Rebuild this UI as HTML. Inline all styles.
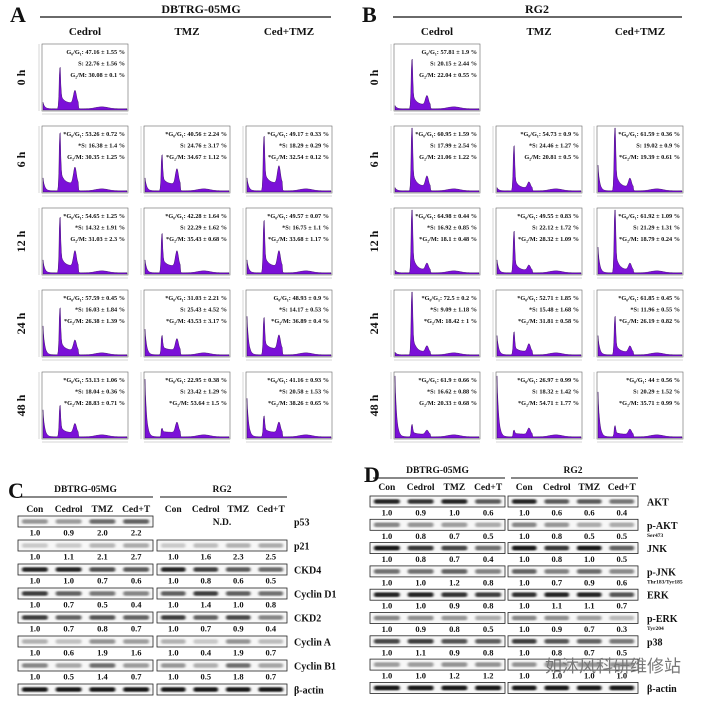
<!DOCTYPE html>
<html><head><meta charset="utf-8"><style>
html,body{margin:0;padding:0;background:#fff}
svg{display:block}
text{font-family:"Liberation Serif","Noto Serif CJK SC",serif;font-weight:bold;fill:#111}
</style></head><body>
<svg id="fig" width="701" height="701" viewBox="0 0 701 701">
<defs>
<filter id="blur" x="-20%" y="-150%" width="140%" height="400%"><feGaussianBlur stdDeviation="1.2 0.9"/></filter>
</defs>
<g id="panelA"></g>
<g id="panelB"></g>
<g id="panelC"></g>
<g id="panelD"></g>
<text x="545" y="672" font-size="17" style="font-weight:normal;fill:#777;font-family:'Liberation Sans','Noto Sans CJK SC',sans-serif">如沐风科研维修站</text>
</svg>
<script>
var NS="http://www.w3.org/2000/svg";
function mk(tag,attrs,parent,txt){var e=document.createElementNS(NS,tag);for(var k in attrs)e.setAttribute(k,String(attrs[k]));if(txt!==undefined)e.textContent=txt;parent.appendChild(e);return e;}

// ---- Flow cytometry data ----
var timepoints=["0 h","6 h","12 h","24 h","48 h"];
var treatments=["Cedrol","TMZ","Ced+TMZ"];
// [G1 peak height, G2 peak height, debris height] fractions of plot height
var histA=[
 [[.55,.25,.1],null,null],
 [[.78,.32,.2],[.45,.3,.2],[.72,.34,.2]],
 [[.75,.3,.2],[.5,.3,.2],[.7,.3,.2]],
 [[.65,.2,.45],[.22,.22,.4],[.48,.27,.6]],
 [[.42,.18,.42],[.06,.2,.9],[.25,.2,.6]]];
var histB=[
 [[.7,.18,.05],null,null],
 [[.95,.2,.05],[.65,.12,.05],[.98,.17,.4]],
 [[1.0,.13,.04],[.6,.1,.2],[1.0,.13,.4]],
 [[1.0,.12,.04],[.3,.15,.3],[.55,.12,.3]],
 [[.15,.08,.95],[.06,.12,.95],[.13,.1,.7]]];
var G="G₀/G₁", M="G₂/M";
var textA=[
 [[G+": 47.16 ± 1.55 %","S: 22.76 ± 1.56 %",M+": 30.08 ± 0.1 %"],null,null],
 [["*"+G+": 53.26 ± 0.72 %","*S: 16.38 ± 1.4 %",M+": 30.35 ± 1.25 %"],["*"+G+": 40.56 ± 2.24 %","S: 24.76 ± 3.17 %","*"+M+": 34.67 ± 1.12 %"],["*"+G+": 49.17 ± 0.33 %","*S: 18.29 ± 0.29 %","*"+M+": 32.54 ± 0.12 %"]],
 [["*"+G+": 54.65 ± 1.25 %","*S: 14.32 ± 1.91 %",M+": 31.03 ± 2.3 %"],["*"+G+": 42.28 ± 1.64 %","S: 22.29 ± 1.62 %","*"+M+": 35.43 ± 0.68 %"],["*"+G+": 49.57 ± 0.07 %","*S: 16.75 ± 1.1 %","*"+M+": 33.68 ± 1.17 %"]],
 [["*"+G+": 57.59 ± 0.45 %","*S: 16.03 ± 1.84 %","*"+M+": 26.38 ± 1.39 %"],["*"+G+": 31.03 ± 2.21 %","S: 25.43 ± 4.52 %","*"+M+": 43.53 ± 3.17 %"],[G+": 48.93 ± 0.9 %","*S: 14.17 ± 0.53 %","*"+M+": 36.89 ± 0.4 %"]],
 [["*"+G+": 53.13 ± 1.06 %","*S: 18.04 ± 0.36 %","*"+M+": 28.83 ± 0.71 %"],["*"+G+": 22.95 ± 0.38 %","S: 23.42 ± 1.29 %","*"+M+": 53.64 ± 1.5 %"],["*"+G+": 41.16 ± 0.93 %","*S: 20.58 ± 1.53 %","*"+M+": 38.26 ± 0.65 %"]]];
var textB=[
 [[G+": 57.81 ± 1.9 %","S: 20.15 ± 2.44 %",M+": 22.04 ± 0.55 %"],null,null],
 [["*"+G+": 60.95 ± 1.59 %","S: 17.99 ± 2.54 %",M+": 21.06 ± 1.22 %"],["*"+G+": 54.73 ± 0.9 %","*S: 24.46 ± 1.27 %",M+": 20.81 ± 0.5 %"],["*"+G+": 61.59 ± 0.36 %","S: 19.02 ± 0.9 %","*"+M+": 19.39 ± 0.61 %"]],
 [["*"+G+": 64.98 ± 0.44 %","*S: 16.92 ± 0.85 %","*"+M+": 18.1 ± 0.48 %"],["*"+G+": 49.55 ± 0.83 %","S: 22.12 ± 1.72 %","*"+M+": 28.32 ± 1.09 %"],["*"+G+": 61.92 ± 1.09 %","S: 21.29 ± 1.31 %","*"+M+": 18.79 ± 0.24 %"]],
 [["*"+G+": 72.5 ± 0.2 %","*S: 9.09 ± 1.18 %","*"+M+": 18.42 ± 1 %"],["*"+G+": 52.71 ± 1.85 %","*S: 15.48 ± 1.68 %","*"+M+": 31.81 ± 0.58 %"],["*"+G+": 61.85 ± 0.45 %","*S: 11.96 ± 0.55 %","*"+M+": 26.19 ± 0.82 %"]],
 [["*"+G+": 61.9 ± 0.66 %","*S: 16.62 ± 0.88 %",M+": 20.33 ± 0.68 %"],["*"+G+": 26.97 ± 0.99 %","S: 18.32 ± 1.42 %","*"+M+": 54.71 ± 1.77 %"],["*"+G+": 44 ± 0.56 %","S: 20.29 ± 1.52 %","*"+M+": 35.71 ± 0.99 %"]]];

function histPath(x0,y0,w,h,p){
  var g1=p[0],g2=p[1],deb=p[2]; var d="M"+x0+","+(y0+h); var N=160;
  for(var i=0;i<=N;i++){var u=i/N;
    var v=deb*Math.exp(-u/0.02)+0.02;
    v+=g1*Math.exp(-Math.pow((u-0.2)/0.012,2)); if(u>0.2) v+=g1*0.3*Math.exp(-(u-0.2)/0.04);
    if(u>0.19&&u<0.42) v+=Math.max(0.04,g2*0.35);
    v+=g2*0.8*Math.exp(-Math.pow((u-0.38)/0.025,2));
    v+=0.03*Math.exp(-Math.pow((u-0.7)/0.1,2));
    v=Math.min(v,1); d+=" L"+(x0+u*w).toFixed(1)+","+(y0+h-v*h).toFixed(1);}
  return d+" L"+(x0+w)+","+(y0+h)+" Z";
}
function flowPanel(gid,letter,title,lx,hist,texts,colX,lineX1,lineX2,titleX,rowLblX){
  var g=document.getElementById(gid);
  var L=mk("text",{x:lx,y:22,"font-size":22},g,letter);
  
  
  var t=mk("text",{x:titleX,y:13,"font-size":12,"text-anchor":"middle"},g,title);
  
  
  mk("line",{x1:lineX1,x2:lineX2,y1:17,y2:17,stroke:"#111","stroke-width":1.2},g);
  var rowY=[44,126,208,290,372], w=86,h=67;
  for(var c=0;c<3;c++){var e=mk("text",{x:colX[c]+w/2,y:35,"font-size":11,"text-anchor":"middle"},g,treatments[c]);
    
    }
  for(var r=0;r<5;r++){
    var cy=rowY[r]+h/2;
    var e2=mk("text",{x:rowLblX,y:cy,"font-size":12,"text-anchor":"middle",transform:"rotate(-90 "+rowLblX+" "+cy+")"},g,timepoints[r]);
    
    
    for(var c2=0;c2<3;c2++){
      if(!hist[r][c2]) continue;
      var x=colX[c2],y=rowY[r];
      var cg=mk("g",{},g);
      
      
      mk("rect",{x:x,y:y,width:w,height:h,fill:"none",stroke:"#666","stroke-width":0.6},cg);
      mk("path",{d:histPath(x+1,y+2,w-2,h-3,hist[r][c2]),fill:"#7b10d8",stroke:"#2a0050","stroke-width":0.4},cg);
      mk("line",{x1:x-3,x2:x-3,y1:y,y2:y+h,stroke:"#999","stroke-width":0.4},cg);
      mk("line",{x1:x,x2:x+w,y1:y+h+3,y2:y+h+3,stroke:"#999","stroke-width":0.4},cg);
      for(var i=0;i<3;i++){var te=mk("text",{x:x+w-3,y:y+10+i*11.5,"font-size":6.3,"text-anchor":"end"},cg,texts[r][c2][i]);
        
        }
    }
  }
}
flowPanel("panelA","A","DBTRG-05MG",10,histA,textA,[42,144,246],40,331,201,25);
flowPanel("panelB","B","RG2",362,histB,textB,[394,496,597],393,682,537,378);

// ---- Western blot data ----
var lanes=["Con","Cedrol","TMZ","Ced+T"];
var proteinsC=["p53","p21","CKD4","Cyclin D1","CKD2","Cyclin A","Cyclin B1","β-actin"];
var quantC_DB=[[1.0,0.9,2.0,2.2],[1.0,1.1,2.1,2.7],[1.0,1.0,0.7,0.6],[1.0,0.7,0.5,0.4],[1.0,0.7,0.8,0.7],[1.0,0.6,1.9,1.6],[1.0,0.5,1.4,0.7],null];
var quantC_RG=[null,[1.0,1.6,2.3,2.5],[1.0,0.8,0.6,0.5],[1.0,1.4,1.0,0.8],[1.0,0.7,0.9,0.4],[1.0,0.4,1.9,0.7],[1.0,0.5,1.8,0.7],null];
var baseC=[0.6,0.3,0.85,0.75,0.75,0.4,0.55,0.9];
var proteinsD=["AKT","p-AKT","JNK","p-JNK","ERK","p-ERK","p38","","β-actin"];
var subD=["","Ser473","","Thr183/Tyr185","","Tyr204","","",""];
var quantD_DB=[[1.0,0.9,1.0,0.6],[1.0,0.8,0.7,0.5],[1.0,0.8,0.7,0.4],[1.0,1.0,1.2,0.8],[1.0,1.0,0.9,0.8],[1.0,0.9,0.8,0.5],[1.0,1.1,0.9,0.8],[1.0,1.0,1.2,1.2],null];
var quantD_RG=[[1.0,0.6,0.6,0.4],[1.0,0.8,0.5,0.5],[1.0,0.8,1.0,0.5],[1.0,0.7,0.9,0.6],[1.0,1.1,1.1,0.7],[1.0,0.9,0.7,0.3],[1.0,0.8,0.7,0.5],[1.0,1.0,1.0,1.0],null];
var baseD=[0.85,0.45,0.9,0.6,0.85,0.45,0.75,0.4,0.9];

function drawStrip(g,b,q,y,bh,base){
  var lw=(b[1]-b[0])/4;
  var bg=mk("g",{},g);
  
  
  mk("rect",{x:b[0],y:y,width:b[1]-b[0],height:bh,fill:"#f7f7f7",stroke:"#222","stroke-width":0.8},bg);
  var mx=1;
  if(q){mx=0;for(var j=0;j<4;j++){if(q[j]>mx)mx=q[j];}}
  for(var i=0;i<4;i++){
    var v=q?q[i]:1;
    var a=base*(0.35+0.65*v/mx); if(a<0.12)a=0.12; if(a>1)a=1;
    var band=mk("rect",{x:b[0]+i*lw+4,y:y+bh/2-2.3,width:lw-8,height:4.6,rx:2,fill:"#000","fill-opacity":a.toFixed(2),filter:"url(#blur)"},bg);
    
    
  }
  if(q){for(var k=0;k<4;k++){
    var t=mk("text",{x:b[0]+lw*(k+0.5),y:y+bh+8.5,"font-size":8.5,"text-anchor":"middle"},g,q[k].toFixed(1));
    
    }}
}
function blotPanel(gid,letter,lx,ly,hdrY,lblY,boxL,boxR,y0,step,bh,proteins,subs,qL,qR,base,lblX,ndRow){
  var g=document.getElementById(gid);
  var L=mk("text",{x:lx,y:ly,"font-size":22},g,letter);
  
  
  var heads=[["DBTRG-05MG",boxL],["RG2",boxR]];
  for(var h=0;h<2;h++){
    var b=heads[h][1];
    var e=mk("text",{x:(b[0]+b[1])/2,y:hdrY,"font-size":9.5,"text-anchor":"middle"},g,heads[h][0]);
    
    
    mk("line",{x1:b[0]+3,x2:b[1],y1:hdrY+5,y2:hdrY+5,stroke:"#111","stroke-width":1},g);
    for(var i=0;i<4;i++){var cx=b[0]+(b[1]-b[0])*(i+0.5)/4;
      var le=mk("text",{x:cx,y:lblY,"font-size":9.5,"text-anchor":"middle"},g,lanes[i]);
      
      }
  }
  for(var r=0;r<proteins.length;r++){
    var y=y0+r*step;
    drawStrip(g,boxL,qL[r],y,bh,base[r]);
    if(r===ndRow){
      var nd=mk("text",{x:(boxR[0]+boxR[1])/2,y:y+9,"font-size":9.5,"text-anchor":"middle"},g,"N.D.");
      
      
    } else {
      drawStrip(g,boxR,qR[r],y,bh,base[r]);
    }
    if(proteins[r]){var pl=mk("text",{x:lblX,y:y+bh/2+4,"font-size":10},g,proteins[r]);
      
      }
    if(subs&&subs[r]){var s=mk("text",{x:lblX,y:y+bh/2+12,"font-size":5.5},g,subs[r]);
      
      }
  }
}
blotPanel("panelC","C",8,498,492,512,[18,153],[157,287],516,24,11,proteinsC,null,quantC_DB,quantC_RG,baseC,294,0);
blotPanel("panelD","D",364,482,473,490,[370,505],[508,638],496,23.3,11,proteinsD,subD,quantD_DB,quantD_RG,baseD,647,-1);
</script>
</body></html>
